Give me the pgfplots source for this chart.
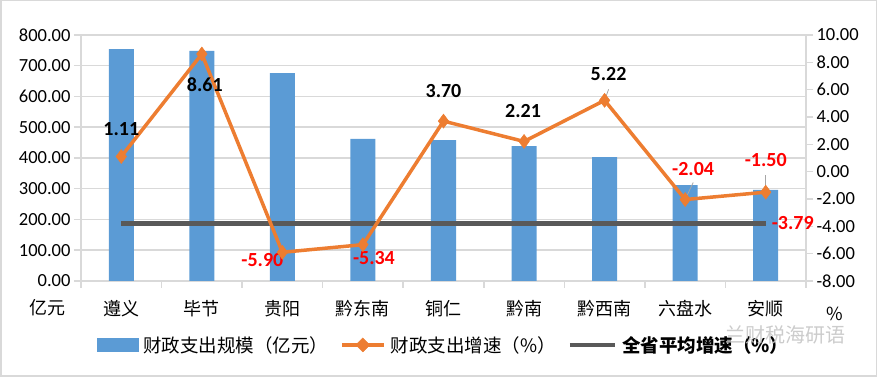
\documentclass[border=0pt]{standalone}
\usepackage{pgfplots}
\pgfplotsset{compat=1.18}
\usepackage{fontspec}
\setmainfont{Carlito}
\newfontfamily\cjk{Noto Sans CJK SC}
\definecolor{barblue}{HTML}{5B9BD5}
\definecolor{lineorange}{HTML}{ED7D31}
\definecolor{avggray}{HTML}{595959}
\definecolor{gridgray}{HTML}{D9D9D9}
\definecolor{labred}{HTML}{FF0000}
\begin{document}
\begin{tikzpicture}[x=1pt,y=1pt]
\draw[gridgray, line width=1.5pt] (0.75,0.75) rectangle (876.25,376.25);
\useasboundingbox (0,0) rectangle (877,377);
\begin{axis}[
  at={(81pt,96pt)}, anchor=south west, scale only axis,
  width=725pt, height=246pt,
  xmin=-0.5, xmax=8.5, ymin=0, ymax=800,
  axis x line*=bottom, axis y line*=left,
  axis line style={draw=gridgray, line width=1.5pt},
  ytick={0,100,...,800},
  ymajorgrids, grid style={draw=gridgray, line width=1.5pt},
  major tick length=7pt, tick align=outside,
  ytick style={draw=gridgray, line width=1.5pt},
  xtick={0,...,8},
  xticklabels={遵义,毕节,贵阳,黔东南,铜仁,黔南,黔西南,六盘水,安顺},
  xtick style={draw=none},
  xticklabel style={font=\cjk\fontsize{18}{20}\selectfont, yshift=-9pt},
  extra x ticks={-0.5,0.5,...,8.5},
  extra x tick labels={},
  extra x tick style={xtick style={draw=gridgray, line width=1.5pt}, grid=none},
  yticklabel style={font=\fontsize{18.5}{20}\selectfont, text=black},
  /pgf/number format/.cd, fixed, fixed zerofill, precision=2, assume math mode=true,
]
\addplot[ybar, bar width=25pt, fill=barblue, draw=none] coordinates {
(0,754) (1,748) (2,676) (3,462) (4,458) (5,439) (6,403) (7,312) (8,296)};
\end{axis}
\begin{axis}[
  at={(81pt,96pt)}, anchor=south west, scale only axis,
  width=725pt, height=246pt,
  xmin=-0.5, xmax=8.5, ymin=-8, ymax=10,
  axis x line=none, axis y line*=right,
  axis line style={draw=gridgray, line width=1.5pt},
  ytick={-8,-6,...,10},
  major tick length=7pt, tick align=outside,
  ytick style={draw=gridgray, line width=1.5pt},
  yticklabel style={font=\fontsize{18.5}{20}\selectfont, text=black},
  /pgf/number format/.cd, fixed, fixed zerofill, precision=2, assume math mode=true,
  /pgfplots/.cd,
  legend columns=3,
  legend style={draw=none, fill=none, at={(0.5,-0.26)}, anchor=center,
    font=\cjk\fontsize{18.5}{20}\selectfont,
    /tikz/every even column/.append style={column sep=10pt},
    /tikz/every odd column/.append style={column sep=3pt}},
  clip=false,
]
\addlegendimage{legend image code/.code={\fill[barblue] (0pt,-6.5pt) rectangle (41pt,6.5pt);}}
\addlegendentry{财政支出规模（亿元）}
\addlegendimage{legend image code/.code={\draw[lineorange,line width=3.5pt] (0pt,0pt) -- (42pt,0pt);
  \fill[lineorange] (21pt,0pt) -- (28pt,0pt) -- (21pt,7pt) -- (14pt,0pt) -- (21pt,-7pt) -- (28pt,0pt) -- cycle;}}
\addlegendentry{财政支出增速（\%）}
\addlegendimage{legend image code/.code={\draw[avggray,line width=4.5pt] (0pt,0pt) -- (45pt,0pt);}}
\addlegendentry{\bfseries 全省平均增速（\%）}
\addplot[avggray, line width=4.5pt, forget plot] coordinates {(0,-3.79) (8,-3.79)};
\addplot[lineorange, line width=3.5pt, mark=diamond*, mark size=7pt,
  mark options={fill=lineorange, draw=lineorange, line width=0.5pt}, forget plot]
  coordinates {(0,1.11) (1,8.61) (2,-5.90) (3,-5.34) (4,3.70) (5,2.21) (6,5.22) (7,-2.04) (8,-1.50)};
\draw[gray!70, line width=0.8pt] (axis cs:6,5.22) -- ++(4pt,11pt);
\draw[gray!70, line width=0.8pt] (axis cs:7,-2.04) -- ++(8pt,17pt);
\draw[gray!70, line width=0.8pt] (axis cs:8,-1.50) -- ++(0pt,17pt);
\begin{scope}[every node/.style={font=\bfseries\fontsize{20}{22}\selectfont, inner sep=0pt}]
\node at (axis cs:0,1.11) [yshift=27pt] {1.11};
\node at (axis cs:1,8.61) [xshift=3pt, yshift=-31pt] {8.61};
\node[text=labred] at (axis cs:2,-5.90) [xshift=-20pt, yshift=-8pt] {-5.90};
\node[text=labred] at (axis cs:3,-5.34) [xshift=11pt, yshift=-13pt] {-5.34};
\node at (axis cs:4,3.70) [yshift=30pt] {3.70};
\node at (axis cs:5,2.21) [xshift=-1pt, yshift=30pt] {2.21};
\node at (axis cs:6,5.22) [xshift=4pt, yshift=26pt] {5.22};
\node[text=labred] at (axis cs:7,-2.04) [xshift=8pt, yshift=31pt] {-2.04};
\node[text=labred] at (axis cs:8,-1.50) [yshift=32pt] {-1.50};
\node[text=labred] at (axis cs:8,-3.79) [xshift=27pt] {-3.79};
\end{scope}
\end{axis}
\node[font=\cjk\fontsize{18}{20}\selectfont] at (47pt,69pt) {亿元};
\node[font=\cjk\fontsize{18}{20}\selectfont] at (835pt,63pt) {\%};
\node[font=\cjk\fontsize{20}{22}\selectfont, text=gray!45, opacity=0.9] at (785pt,42pt) {兰财税海研语};
\end{tikzpicture}
\end{document}
